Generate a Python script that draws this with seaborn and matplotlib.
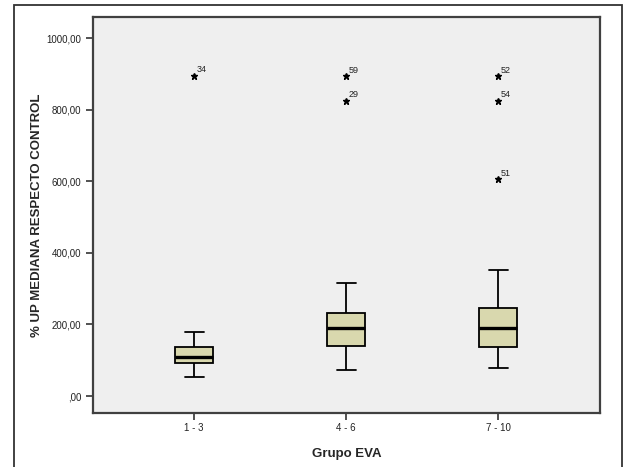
import matplotlib
matplotlib.use("Agg")
import matplotlib.pyplot as plt
from matplotlib.patches import Rectangle
import seaborn as sns
import pandas as pd

# categorías del eje x
grupos = ["1 - 3", "4 - 6", "7 - 10"]

# observaciones estimadas a partir del gráfico (% UP mediana respecto control)
valores_1_3 = [54, 80, 91, 100, 110, 125, 138, 180, 895]
valores_4_6 = [73, 110, 125, 140, 165, 180, 191, 205, 220, 231, 315, 825, 894]
valores_7_10 = [77, 95, 110, 125, 136, 150, 165, 180, 189, 200, 220, 235, 247,
                352, 606, 825, 894]

# casos extremos etiquetados
extremos_grupo = ["1 - 3", "4 - 6", "4 - 6", "7 - 10", "7 - 10", "7 - 10"]
extremos_valor = [895, 894, 825, 894, 825, 606]
extremos_caso = ["34", "59", "29", "52", "54", "51"]

yticks = [0, 200, 400, 600, 800, 1000]
ytick_labels = [",00", "200,00", "400,00", "600,00", "800,00", "1000,00"]

df = pd.DataFrame({
    "grupo": ["1 - 3"] * len(valores_1_3) + ["4 - 6"] * len(valores_4_6)
             + ["7 - 10"] * len(valores_7_10),
    "valor": valores_1_3 + valores_4_6 + valores_7_10,
})

sns.set_style("white")
plt.rcParams["font.family"] = ["Liberation Sans", "DejaVu Sans"]

fig = plt.figure(figsize=(6.23, 4.67), dpi=100)
ax = fig.add_axes([93 / 623, 1 - 413 / 467, 507 / 623, 396 / 467])
ax.set_facecolor("#efefef")

sns.boxplot(data=df, x="grupo", y="valor", order=grupos, ax=ax,
            width=0.25, color="#d9d8ae", linecolor="black", linewidth=1.3,
            fliersize=5,
            flierprops=dict(marker="*", markerfacecolor="black",
                            markeredgecolor="black"),
            medianprops=dict(linewidth=2.4, color="black"),
            boxprops=dict(facecolor="#d9d8ae", edgecolor="black"))

for g, v, c in zip(extremos_grupo, extremos_valor, extremos_caso):
    ax.annotate(c, (grupos.index(g), v), xytext=(2, 1),
                textcoords="offset points", fontsize=6.5,
                ha="left", va="bottom", color="#222222")

ax.set_xlim(-0.665, 2.67)
ax.set_ylim(-47.5, 1059)
ax.set_yticks(yticks)
ax.set_yticklabels(ytick_labels)
ax.tick_params(axis="both", direction="out", length=5, width=1.1,
               colors="#222222", labelsize=7, bottom=True, left=True)
ax.tick_params(axis="x", pad=2)
for s in ax.spines.values():
    s.set_color("#404040")
    s.set_linewidth(1.6)

ax.set_xlabel("Grupo EVA", fontsize=9.5, fontweight="bold")
ax.set_ylabel("% UP MEDIANA RESPECTO CONTROL", fontsize=9.5,
              fontweight="bold")
ax.yaxis.set_label_coords(-0.098, 0.5)
ax.xaxis.set_label_coords(0.5, -0.088)

# marco exterior
fig.add_artist(Rectangle((14 / 623, -0.1), (622 - 14) / 623, 1.1 - 5 / 467,
                         transform=fig.transFigure, fill=False,
                         edgecolor="#333333", linewidth=1.3))

fig.savefig("out.png", dpi=100)
